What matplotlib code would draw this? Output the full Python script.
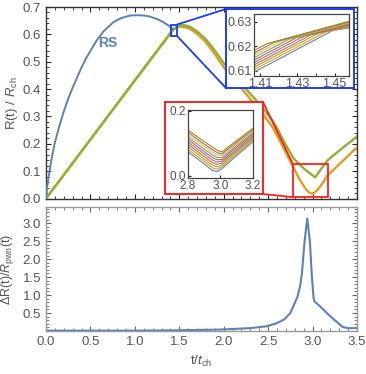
import matplotlib
matplotlib.use("Agg")
import matplotlib.pyplot as plt
from matplotlib.patches import Rectangle, ConnectionPatch
from matplotlib.ticker import MultipleLocator, FixedLocator

plt.rcParams['font.family'] = ['Liberation Sans', 'DejaVu Sans']
plt.rcParams['mathtext.fontset'] = 'custom'
plt.rcParams['mathtext.rm'] = 'Liberation Sans'
plt.rcParams['mathtext.it'] = 'Liberation Sans:italic'

# ---------------- data ----------------
rs_t = [0, 0.01, 0.03, 0.06, 0.10, 0.15, 0.20, 0.25, 0.30, 0.38, 0.45, 0.57, 0.65,
        0.76, 0.85, 0.95, 1.02, 1.10, 1.17, 1.25, 1.32, 1.38, 1.43]
rs_r = [0, 0.035, 0.08, 0.14, 0.205, 0.265, 0.318, 0.365, 0.405, 0.465, 0.512, 0.578,
        0.612, 0.645, 0.660, 0.669, 0.670, 0.669, 0.665, 0.656, 0.645, 0.632, 0.618]

green_t = [0, 1.43, 1.47, 1.51, 1.55, 1.60, 1.65, 1.70, 1.78, 1.85, 1.92, 2.00, 2.10,
           2.25, 2.35, 2.45, 2.55, 2.62, 2.70, 2.79, 2.90, 2.97, 3.03, 3.10, 3.17,
           3.30, 3.50]
green_r = [0, 0.618, 0.628, 0.633, 0.634, 0.630, 0.622, 0.611, 0.588, 0.562, 0.532,
           0.495, 0.455, 0.400, 0.365, 0.325, 0.285, 0.245, 0.195, 0.145, 0.110,
           0.092, 0.077, 0.110, 0.140, 0.175, 0.227]

orange_t = [0, 1.43, 1.47, 1.50, 1.54, 1.60, 1.65, 1.70, 1.78, 1.85, 1.92, 2.00, 2.10,
            2.25, 2.35, 2.45, 2.55, 2.62, 2.70, 2.77, 2.85, 2.92, 2.96, 2.99, 3.02,
            3.06, 3.10, 3.17, 3.30, 3.50]
orange_r = [0, 0.616, 0.625, 0.628, 0.628, 0.623, 0.614, 0.602, 0.578, 0.550, 0.518,
            0.480, 0.438, 0.383, 0.345, 0.305, 0.260, 0.218, 0.168, 0.122, 0.072,
            0.036, 0.022, 0.018, 0.021, 0.033, 0.050, 0.084, 0.125, 0.187]

dr_t = [0, 1.0, 1.5, 1.96, 2.3, 2.48, 2.6, 2.68, 2.75, 2.83, 2.86, 2.88, 2.91, 2.94,
        2.97, 2.99, 3.01, 3.02, 3.10, 3.16, 3.25, 3.34, 3.40, 3.50]
dr_v = [0.01, 0.01, 0.02, 0.04, 0.08, 0.13, 0.22, 0.32, 0.50, 0.95, 1.25, 1.6, 2.5,
        3.13, 2.5, 1.6, 0.95, 0.83, 0.65, 0.50, 0.30, 0.11, 0.08, 0.08]

# blue inset (zoom near t=1.43): per-curve knots (x, y)
blue_x = [
    [1.4064, 1.4491, 1.4576],
    [1.4064, 1.4452, 1.4576],
    [1.4064, 1.4412, 1.4576],
    [1.4064, 1.4373, 1.4576],
    [1.4064, 1.4333, 1.4576],
    [1.4064, 1.4294, 1.4576],
    [1.4064, 1.4254, 1.4576],
    [1.4064, 1.4215, 1.4576],
    [1.4064, 1.4175, 1.4576],
    [1.4064, 1.4136, 1.4576],
]
blue_y = [
    [0.6093, 0.6264, 0.6274],
    [0.6103, 0.6258, 0.6277],
    [0.6113, 0.6252, 0.6280],
    [0.6122, 0.6246, 0.6283],
    [0.6132, 0.6240, 0.6286],
    [0.6142, 0.6234, 0.6289],
    [0.6152, 0.6228, 0.6292],
    [0.6162, 0.6222, 0.6295],
    [0.6171, 0.6216, 0.6298],
    [0.6181, 0.6210, 0.6301],
]

# red inset (zoom near t=3.0)
red_x = [2.8, 2.9, 2.95, 2.98, 3.01, 3.05, 3.1, 3.2]
red_y = [
    [0.074, 0.036, 0.016, 0.013, 0.022, 0.040, 0.062, 0.105],
    [0.081, 0.044, 0.024, 0.020, 0.028, 0.046, 0.067, 0.110],
    [0.089, 0.051, 0.032, 0.027, 0.033, 0.051, 0.072, 0.114],
    [0.096, 0.059, 0.040, 0.035, 0.039, 0.057, 0.077, 0.119],
    [0.103, 0.067, 0.048, 0.042, 0.045, 0.062, 0.082, 0.123],
    [0.111, 0.074, 0.056, 0.049, 0.050, 0.068, 0.088, 0.128],
    [0.118, 0.082, 0.064, 0.056, 0.056, 0.073, 0.093, 0.132],
    [0.125, 0.090, 0.072, 0.064, 0.062, 0.079, 0.098, 0.137],
    [0.133, 0.097, 0.080, 0.071, 0.067, 0.084, 0.103, 0.141],
    [0.140, 0.105, 0.088, 0.078, 0.073, 0.090, 0.108, 0.146],
]

mma = ['#5E81B5', '#E19C24', '#8FB032', '#EB6235', '#8778B3',
       '#C56E1A', '#5D9EC7', '#FFBF00', '#A5609D', '#929600']

C_RS, C_G, C_O = '#5E81B5', '#8FB032', '#E19C24'
TXT = '#555555'

W, H = 366, 374
fig = plt.figure(figsize=(W / 100, H / 100), dpi=100)

def fx(px):
    return px / W

def fy(py):
    return 1 - py / H

# ---------------- top axes ----------------
ax = fig.add_axes([fx(46), fy(198.5), fx(357) - fx(46), fy(7) - fy(198.5)])
ax.set_zorder(0)
ax.plot(orange_t, orange_r, color=C_O, lw=1.7, zorder=3, solid_joinstyle='round')
ax.plot(green_t, green_r, color=C_G, lw=1.7, zorder=4, solid_joinstyle='round')
ax.plot(rs_t, rs_r, color=C_RS, lw=1.4, zorder=5, solid_joinstyle='round')
ax.text(0.70, 0.567, 'RS', color=C_RS, fontsize=10, fontweight='bold',
        ha='center', va='center')
ax.set_xlim(0, 3.5)
ax.set_ylim(0, 0.7)
ax.xaxis.set_major_locator(MultipleLocator(0.5))
ax.xaxis.set_minor_locator(MultipleLocator(0.1))
ax.yaxis.set_major_locator(MultipleLocator(0.1))
ax.yaxis.set_minor_locator(MultipleLocator(0.02))
ax.tick_params(which='both', direction='in', top=True, right=True,
               labelbottom=False, labelsize=9.5, labelcolor=TXT, color='#222')
ax.tick_params(which='major', length=3.5, width=0.8)
ax.tick_params(which='minor', length=2, width=0.6)
for s in ax.spines.values():
    s.set_color('#333333')
    s.set_linewidth(1.0)
ax.set_ylabel(r'R(t) / $R_{\mathrm{ch}}$', fontsize=9.5, color=TXT)
ax.yaxis.set_label_coords(-0.082, 0.5)

# small zoom boxes in main axes
bx0, bx1, by0, by1 = 1.407, 1.475, 0.594, 0.636
ax.add_patch(Rectangle((bx0, by0), bx1 - bx0, by1 - by0, fill=False,
                       ec='#1a3cff', lw=1.3, zorder=6))
rx0, rx1, ry0, ry1 = 2.78, 3.17, 0.005, 0.125
ax.add_patch(Rectangle((rx0, ry0), rx1 - rx0, ry1 - ry0, fill=False,
                       ec='#ff2020', lw=1.3, zorder=6))

# outer inset frames (figure coords)
blue_outer = (fx(226), fy(88), fx(354) - fx(226), fy(9) - fy(88))
red_outer = (fx(165), fy(194), fx(263) - fx(165), fy(102) - fy(194))
fig.patches.append(Rectangle(blue_outer[:2], blue_outer[2], blue_outer[3],
                             transform=fig.transFigure, fc='white',
                             ec='#1a3cff', lw=1.4, zorder=2))
fig.patches.append(Rectangle(red_outer[:2], red_outer[2], red_outer[3],
                             transform=fig.transFigure, fc='white',
                             ec='#ff2020', lw=1.4, zorder=2))

# connectors
for (xa, ya), (xb, yb), col in [
        ((bx1, by1), (blue_outer[0], blue_outer[1] + blue_outer[3]), '#1a3cff'),
        ((bx1, by0), (blue_outer[0], blue_outer[1]), '#1a3cff'),
        ((rx0, ry1), (red_outer[0] + red_outer[2], red_outer[1] + red_outer[3]), '#ff2020'),
        ((rx0, ry0), (red_outer[0] + red_outer[2], red_outer[1]), '#ff2020')]:
    cp = ConnectionPatch(xyA=(xa, ya), coordsA='data', axesA=ax,
                         xyB=(xb, yb), coordsB='figure fraction',
                         color=col, lw=1.3, zorder=2)
    fig.add_artist(cp)

# ---------------- blue inset ----------------
axb = fig.add_axes([fx(253.7), fy(76), fx(348.7) - fx(253.7), fy(14) - fy(76)])
axb.set_zorder(3)
for i in range(10):
    axb.plot(blue_x[i], blue_y[i], color=mma[i], lw=0.8)
axb.set_xlim(1.4064, 1.4576)
axb.set_ylim(0.6078, 0.6331)
axb.xaxis.set_major_locator(FixedLocator([1.41, 1.43, 1.45]))
axb.xaxis.set_minor_locator(FixedLocator([1.42, 1.44]))
axb.yaxis.set_major_locator(FixedLocator([0.61, 0.62, 0.63]))
axb.tick_params(which='both', direction='in', labelsize=9, labelcolor=TXT,
                color='#222', length=2.5, pad=1.5)
for s in axb.spines.values():
    s.set_color('#444444')
    s.set_linewidth(0.9)

# ---------------- red inset ----------------
axr = fig.add_axes([fx(188), fy(178), fx(253) - fx(188), fy(110) - fy(178)])
axr.set_zorder(3)
for i in range(10):
    axr.plot(red_x, red_y[i], color=mma[i], lw=0.8)
axr.set_xlim(2.8, 3.2)
axr.set_ylim(-0.007, 0.202)
axr.xaxis.set_major_locator(FixedLocator([2.8, 3.0, 3.2]))
axr.yaxis.set_major_locator(FixedLocator([0.0, 0.2]))
axr.tick_params(which='both', direction='in', labelsize=8.5, labelcolor=TXT,
                color='#222', length=2.5, pad=1.5)
for s in axr.spines.values():
    s.set_color('#444444')
    s.set_linewidth(0.9)

# ---------------- bottom axes ----------------
ax2 = fig.add_axes([fx(46), fy(331), fx(357) - fx(46), fy(207) - fy(331)])
ax2.plot(dr_t, dr_v, color=C_RS, lw=1.5, solid_joinstyle='round')
ax2.set_xlim(0, 3.5)
ax2.set_ylim(0, 3.45)
ax2.xaxis.set_major_locator(MultipleLocator(0.5))
ax2.xaxis.set_minor_locator(MultipleLocator(0.1))
ax2.yaxis.set_major_locator(FixedLocator([0.5, 1.0, 1.5, 2.0, 2.5, 3.0]))
ax2.yaxis.set_minor_locator(MultipleLocator(0.1))
ax2.tick_params(which='both', direction='in', top=True, right=True,
                labelsize=9.5, labelcolor=TXT, color='#666')
ax2.tick_params(which='major', length=3.5, width=0.8)
ax2.tick_params(which='minor', length=2, width=0.6)
for s in ax2.spines.values():
    s.set_color('#999999')
    s.set_linewidth(1.0)
ax2.set_ylabel(r'$\Delta$R(t)/$R_{\mathrm{pwn}}$(t)', fontsize=9, color=TXT)
ax2.yaxis.set_label_coords(-0.095, 0.5)
ax2.set_xlabel(r't/$t_{\mathrm{ch}}$', fontsize=9.5, color=TXT, labelpad=4)

fig.savefig('out.png', dpi=100)
